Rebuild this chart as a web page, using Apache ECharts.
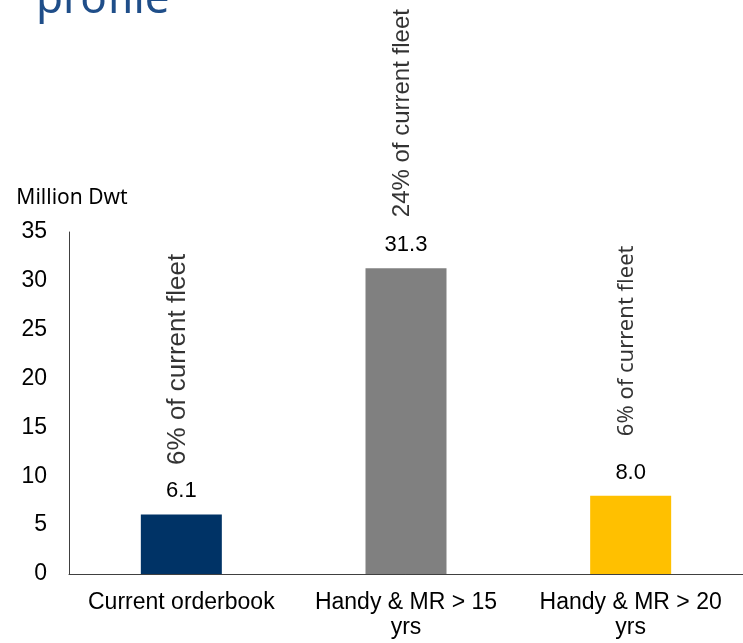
<!DOCTYPE html>
<html><head><meta charset="utf-8">
<script src="https://cdn.jsdelivr.net/npm/echarts@6/dist/echarts.min.js"></script>
<style>html,body{margin:0;padding:0;background:#fff}#c{width:743px;height:643px}</style>
</head><body><div id="c"></div>
<script>
const titleText = 'profile';
const axisName = 'Million Dwt';
const categories = ['Current orderbook', 'Handy & MR > 15\nyrs', 'Handy & MR > 20\nyrs'];
const values = [6.1, 31.3, 8.0];
const fleetShare = ['6% of current fleet', '24% of current fleet', '6% of current fleet'];
const barColors = ['#003366', '#808080', '#FFC000'];
const yMin = 0, yMax = 35, yStep = 5;

const noteStyles = [
  { fontFamily: 'Liberation Sans, Arial', fontSize: 26 },
  { fontFamily: 'Liberation Sans, Arial', fontSize: 24 },
  { fontFamily: 'Noto Sans', fontSize: 22 }
];

const chart = echarts.init(document.getElementById('c'));
chart.setOption({
  animation: false,
  backgroundColor: '#fff',
  title: {
    text: titleText, left: 31, top: -27,
    textStyle: { fontFamily: 'Noto Sans', fontSize: 44, fontWeight: 'normal', color: '#1F4E89' }
  },
  grid: { left: 69, right: 0, top: 232, bottom: 69, containLabel: false, outerBoundsMode: 'none' },
  xAxis: {
    type: 'category', data: categories,
    axisLine: { lineStyle: { color: '#404040', width: 1 } },
    axisTick: { show: false },
    axisLabel: { fontFamily: 'Liberation Sans, Arial', fontSize: 23, color: '#000', margin: 16, lineHeight: 25, interval: 0 }
  },
  yAxis: {
    type: 'value', min: yMin, max: yMax, interval: yStep,
    name: axisName, nameLocation: 'end', nameGap: 34,
    nameTextStyle: { fontFamily: 'Noto Sans', fontSize: 21, color: '#000', align: 'center', verticalAlign: 'middle', padding: [0, 0, 0, 6] },
    axisLine: { show: true, lineStyle: { color: '#404040', width: 1 } },
    axisTick: { show: false },
    splitLine: { show: false },
    axisLabel: { fontFamily: 'Liberation Sans, Arial', fontSize: 23, color: '#000', margin: 22 }
  },
  series: [
    {
      type: 'bar', barWidth: 81,
      data: values.map((v, i) => ({ value: v, itemStyle: { color: barColors[i] } })),
      label: {
        show: true, position: 'top', distance: 12,
        formatter: p => p.value.toFixed(1),
        fontFamily: 'Liberation Sans, Arial', fontSize: 22, color: '#000'
      }
    },
    {
      type: 'scatter', symbolSize: 0, silent: true,
      data: values.map((v, i) => ({ value: v, label: noteStyles[i] })),
      label: {
        show: true, position: 'inside', rotate: 90,
        align: 'center', verticalAlign: 'middle', offset: [155, -4],
        formatter: p => fleetShare[p.dataIndex],
        color: '#000'
      }
    }
  ]
});
</script></body></html>
